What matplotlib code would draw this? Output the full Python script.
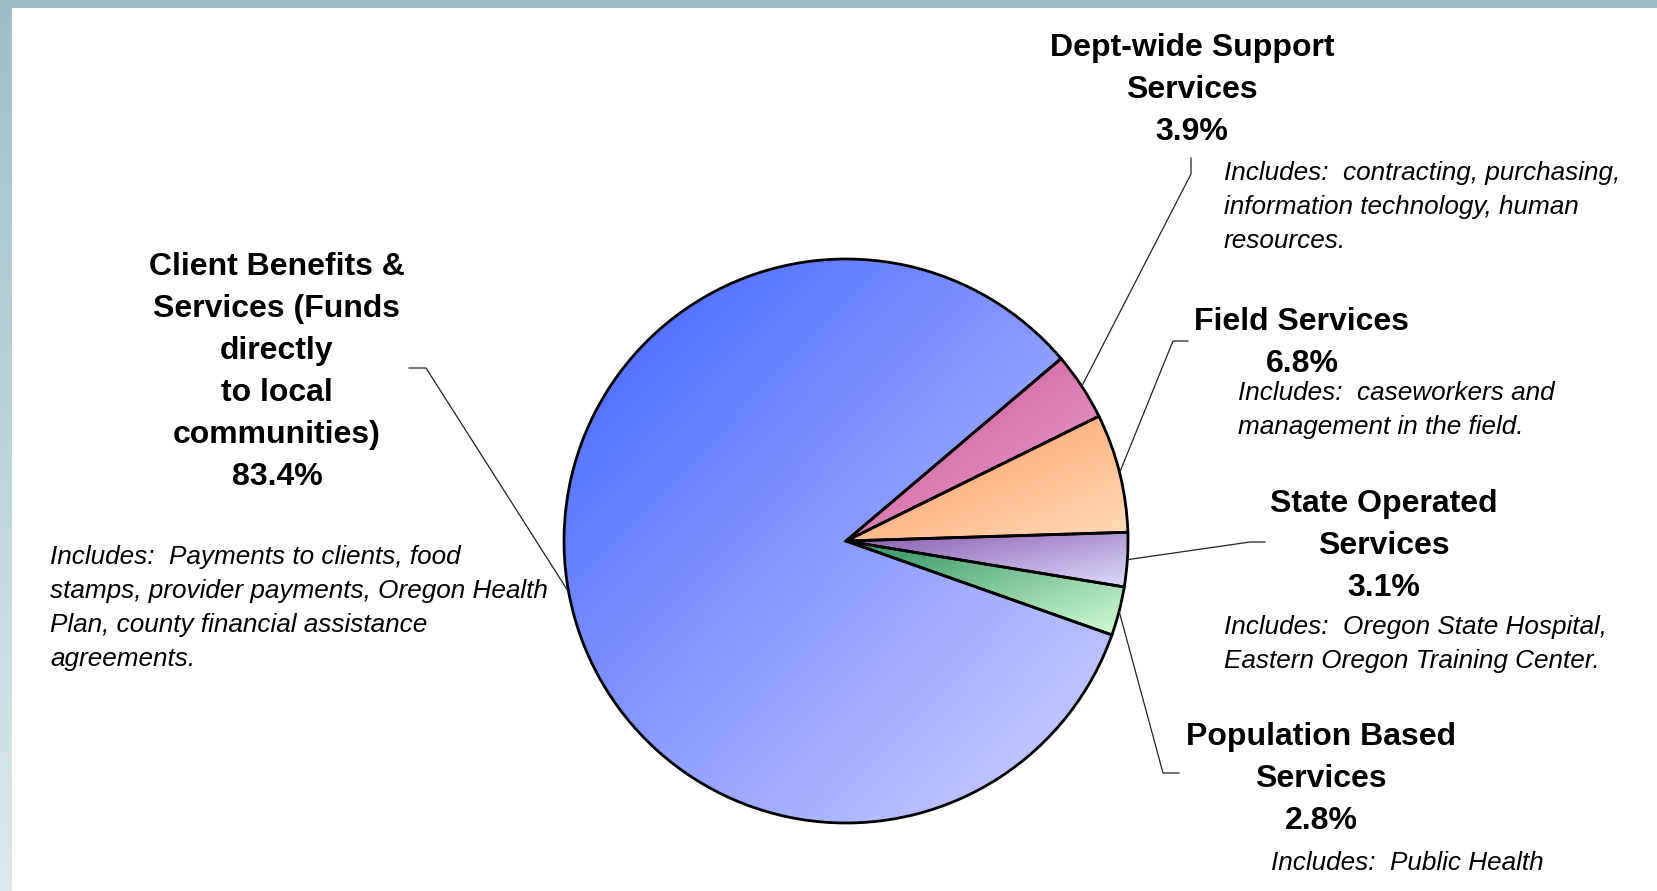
"""
Budget share pie chart with callout labels
"""

import numpy as np
import matplotlib.pyplot as plt
from matplotlib.colors import to_rgb
from matplotlib.patches import Rectangle

W, H = 1658, 891

# data
titles = [
    ['Dept-wide Support', 'Services'],
    ['Field Services'],
    ['State Operated', 'Services'],
    ['Population Based', 'Services'],
    ['Client Benefits &', 'Services (Funds', 'directly', 'to local', 'communities)'],
]
shares = [3.9, 6.8, 3.1, 2.8, 83.4]
notes = [
    ['Includes:  contracting, purchasing,', 'information technology, human', 'resources.'],
    ['Includes:  caseworkers and', 'management in the field.'],
    ['Includes:  Oregon State Hospital,', 'Eastern Oregon Training Center.'],
    ['Includes:  Public Health'],
    ['Includes:  Payments to clients, food', 'stamps, provider payments, Oregon Health',
     'Plan, county financial assistance', 'agreements.'],
]

# gradient colours per slice (dark, light)
grad = [
    ('#c04f8e', '#f3a6d4'),
    ('#ff9655', '#ffdcbb'),
    ('#8756a8', '#dcdcff'),
    ('#2c8e5e', '#d4ffd4'),
    ('#3f63ff', '#d2d2ff'),
]

# layout in pixels from top-left: title centre x, first line y; note left x, first line y; elbow
title_pos = [(1192, 48), (1302, 322), (1384, 504), (1321, 737), (277, 267)]
note_pos = [(1224, 173), (1238, 393), (1224, 627), (1271, 863), (50, 557)]
elbows = [[(1191, 158), (1191, 174)],
          [(1188, 341), (1173, 341)],
          [(1265, 542), (1250, 542)],
          [(1179, 773), (1163, 773)],
          [(409, 368), (426, 368)]]

CX, CY, R = 846, 541, 282
TITLE_STEP, NOTE_STEP = 42, 34
FONT = 'Liberation Sans'


def fy(y):
    return H - y


def fill_gradient(ax, wedge, c0, c1):
    verts = wedge.get_path().vertices
    x0, y0 = verts.min(axis=0)
    x1, y1 = verts.max(axis=0)
    n = 300
    u, v = np.meshgrid(np.linspace(0, 1, n), np.linspace(0, 1, n))
    t = (u + (1 - v)) / 2  # 0 upper-left, 1 lower-right
    rgb = (1 - t)[..., None] * np.array(to_rgb(c0)) + t[..., None] * np.array(to_rgb(c1))
    im = ax.imshow(rgb, extent=(x0, x1, y0, y1), origin='lower',
                   interpolation='bilinear', zorder=0)
    im.set_clip_path(wedge)


fig = plt.figure(figsize=(W / 100, H / 100), dpi=100)
ax = fig.add_axes([0, 0, 1, 1])

wedges, _ = ax.pie(shares, colors=['none'] * len(shares), center=(CX, fy(CY)), radius=R,
                   startangle=40.3, counterclock=False,
                   wedgeprops=dict(edgecolor='black', linewidth=2.0))

for i, w in enumerate(wedges):
    fill_gradient(ax, w, *grad[i])

    # title + percentage
    tx, ty = title_pos[i]
    lines = titles[i] + [f'{shares[i]:.1f}%']
    for k, line in enumerate(lines):
        ax.text(tx, fy(ty + k * TITLE_STEP), line, ha='center', va='center',
                fontsize=23, fontweight='bold', family=FONT, color='black')

    # description
    nx, ny = note_pos[i]
    for k, line in enumerate(notes[i]):
        ax.text(nx, fy(ny + k * NOTE_STEP), line, ha='left', va='center',
                fontsize=18.8, style='italic', family=FONT, color='black')

    # leader line from elbow to slice edge
    mid = np.deg2rad((w.theta1 + w.theta2) / 2)
    ax_pt = (CX + R * np.cos(mid), fy(CY) + R * np.sin(mid))
    xs = [p[0] for p in elbows[i]] + [ax_pt[0]]
    ys = [fy(p[1]) for p in elbows[i]] + [ax_pt[1]]
    ax.plot(xs, ys, color='#222222', lw=0.9, zorder=3)

# slide frame: left gradient strip and top strip
strip = np.linspace(0, 1, 256)[:, None]
top_c, bot_c = np.array(to_rgb('#9cc0c9')), np.array(to_rgb('#dce9ed'))
strip_rgb = (1 - strip)[..., None] * top_c + strip[..., None] * bot_c
ax.imshow(strip_rgb, extent=(0, 12, 0, H), origin='upper', aspect='auto', zorder=0)
ax.add_patch(Rectangle((0, H - 8), W, 8, color='#9cc0c9', lw=0, zorder=0))

ax.set_xlim(0, W)
ax.set_ylim(0, H)
ax.set_aspect('auto')
ax.axis('off')

plt.savefig('out.png', dpi=100)
plt.close()
